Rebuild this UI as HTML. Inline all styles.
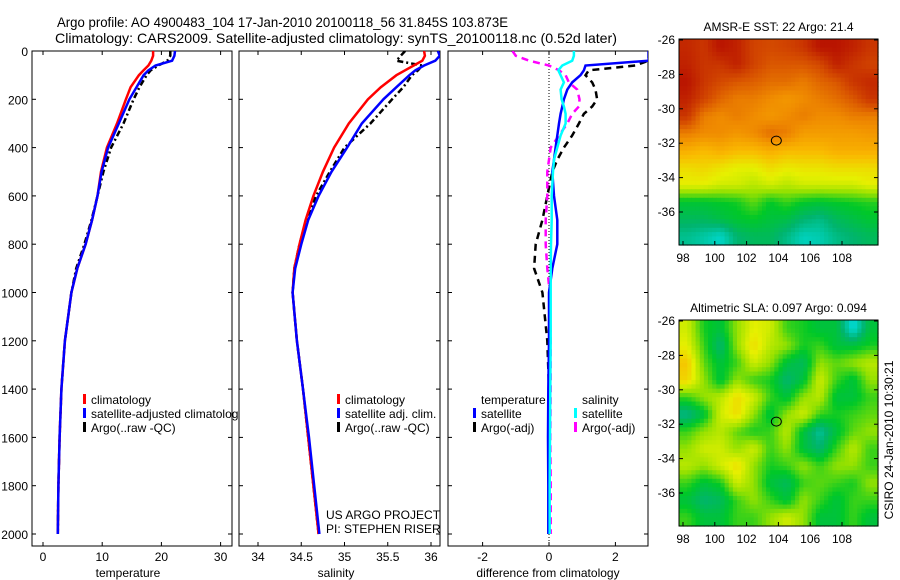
<!DOCTYPE html>
<html><head><meta charset="utf-8">
<style>
body{margin:0;background:#fff;}
svg{display:block;font-family:"Liberation Sans",sans-serif;font-size:12px;}
</style></head>
<body>
<svg id="c" width="900" height="580" viewBox="0 0 900 580">
<text x="57" y="27" style="font-size:14px" textLength="451" lengthAdjust="spacingAndGlyphs">Argo profile: AO 4900483_104 17-Jan-2010 20100118_56 31.845S 103.873E</text>
<text x="55" y="43" style="font-size:14px" textLength="562" lengthAdjust="spacingAndGlyphs">Climatology: CARS2009. Satellite-adjusted climatology: synTS_20100118.nc (0.52d later)</text>
</svg>
<script>
const depths=[0,20,40,60,80,100,150,200,300,400,500,600,700,800,900,1000,1200,1400,1600,1800,2000];
const climT=[18.6,18.6,18.3,17.8,17,16.2,14.8,14,12.5,10.8,9.8,9.2,8.3,7.2,5.8,4.8,3.7,3.1,2.8,2.6,2.5];
const satT=[22.3,22.2,21.8,19,17.8,17,15.8,14.6,12.8,11,9.9,9.2,8.3,7.2,5.8,4.8,3.7,3.1,2.8,2.6,2.5];
const argoT=[21.5,21.5,21,19.5,18.2,17.5,16.3,15.3,13.6,11.5,10.2,9.2,8.2,7,5.6,4.8,3.7,3.1,2.8,2.6,2.5];
const climS=[35.92,35.93,35.9,35.8,35.7,35.6,35.42,35.27,35.05,34.88,34.75,34.64,34.55,34.48,34.42,34.4,34.45,34.52,34.58,34.64,34.7];
const satS=[36.08,36.1,36.05,35.92,35.82,35.75,35.6,35.45,35.2,35.03,34.85,34.7,34.58,34.5,34.43,34.4,34.45,34.52,34.59,34.65,34.71];
const argoS=[35.7,35.65,35.6,35.9,35.85,35.78,35.68,35.55,35.3,35.0,34.83,34.67,34.56,34.48,34.42,34.4,34.45,34.52,34.58,34.64,34.7];
const diffDepths=[0,20,40,60,80,100,130,160,200,230,260,300,350,400,450,500,600,700,800,900,1000,1200,1400,1600,1800,2000];
const satTdiff=[3,3,3,1.1,1.05,0.95,0.7,0.55,0.45,0.4,0.35,0.3,0.25,0.2,0.15,0.1,0.15,0.25,0.25,0.1,0,0,-0.02,-0.03,-0.02,-0.02];
const satSdiff=[0.75,0.75,0.7,0.4,0.28,0.35,0.45,0.35,0.38,0.45,0.5,0.5,0.35,0.25,0.15,0.12,0.08,0.08,0.06,0.05,0.05,0.05,0.04,0.03,0.02,0.02];
const argoSdiff=[-1.1,-1.0,-0.6,0,0.3,0.5,0.6,0.85,0.92,0.9,0.7,0.55,0.3,0.05,0,-0.05,-0.05,-0.1,-0.1,-0.05,0.02,0.05,0.05,0.04,0.05,0.05];
const argoTdiff=[3,3,3,2.6,1.2,1.1,1.3,1.4,1.45,1.3,1.05,0.9,0.7,0.45,0.25,0.1,-0.05,-0.2,-0.4,-0.45,-0.2,-0.05,0,0,0,0];
const depthTicks=[0,200,400,600,800,1000,1200,1400,1600,1800,2000];
const tempTicks=[0,10,20,30];
const salTicks=[34,34.5,35,35.5,36];
const diffTicks=[-2,0,2];
const lonTicks=[98,100,102,104,106,108];
const latTicks=[-26,-28,-30,-32,-34,-36];
const sstGrid=[
[0.92,0.9,0.95,0.93,0.88,0.87,0.88,0.9,0.95,0.95,0.93,0.9],
[0.93,0.9,0.9,0.93,0.88,0.85,0.85,0.85,0.87,0.93,0.9,0.88],
[0.95,0.9,0.87,0.85,0.84,0.82,0.82,0.8,0.83,0.85,0.9,0.92],
[0.93,0.88,0.83,0.8,0.8,0.78,0.76,0.78,0.8,0.82,0.85,0.9],
[0.9,0.8,0.78,0.8,0.78,0.76,0.78,0.8,0.78,0.78,0.8,0.8],
[0.8,0.78,0.78,0.76,0.78,0.82,0.8,0.75,0.75,0.75,0.75,0.76],
[0.72,0.7,0.72,0.7,0.7,0.72,0.7,0.7,0.7,0.72,0.72,0.72],
[0.65,0.66,0.64,0.62,0.62,0.65,0.63,0.64,0.64,0.65,0.65,0.65],
[0.62,0.62,0.6,0.6,0.58,0.6,0.58,0.6,0.6,0.6,0.6,0.62],
[0.46,0.46,0.47,0.48,0.52,0.47,0.5,0.47,0.46,0.47,0.48,0.49],
[0.42,0.42,0.44,0.46,0.47,0.45,0.44,0.4,0.38,0.42,0.44,0.46],
[0.37,0.35,0.32,0.4,0.42,0.42,0.38,0.33,0.34,0.38,0.4,0.42]];
const slaGrid=[
[0.6,0.48,0.45,0.55,0.62,0.6,0.5,0.48,0.45,0.45,0.3,0.45],
[0.62,0.5,0.4,0.55,0.65,0.58,0.55,0.48,0.5,0.45,0.45,0.48],
[0.68,0.52,0.45,0.5,0.6,0.55,0.45,0.42,0.55,0.52,0.55,0.58],
[0.66,0.55,0.45,0.55,0.5,0.48,0.4,0.45,0.6,0.5,0.45,0.55],
[0.5,0.55,0.58,0.65,0.6,0.5,0.45,0.55,0.58,0.45,0.45,0.5],
[0.38,0.45,0.6,0.65,0.55,0.45,0.55,0.6,0.5,0.48,0.5,0.52],
[0.5,0.55,0.58,0.52,0.48,0.5,0.58,0.45,0.36,0.45,0.52,0.55],
[0.55,0.6,0.6,0.55,0.6,0.5,0.55,0.45,0.4,0.5,0.58,0.5],
[0.58,0.55,0.6,0.65,0.55,0.48,0.5,0.55,0.5,0.55,0.55,0.5],
[0.5,0.45,0.48,0.6,0.55,0.45,0.42,0.5,0.52,0.5,0.48,0.55],
[0.45,0.4,0.42,0.5,0.55,0.5,0.45,0.55,0.5,0.45,0.5,0.5],
[0.5,0.45,0.45,0.5,0.5,0.55,0.6,0.55,0.45,0.45,0.5,0.45]];
const argoPos=[103.87,-31.85];

const svg=document.getElementById('c');
const NS='http://www.w3.org/2000/svg';
function mk(tag,attrs,parent){const e=document.createElementNS(NS,tag);for(const k in attrs)e.setAttribute(k,attrs[k]);(parent||svg).appendChild(e);return e;}
const yD=d=>51+d*0.2415;
const xT=v=>43+v*5.92;
const xS=v=>258+(v-34)*86.5;
const xDf=v=>549+v*33.2;

function panel(x0,x1,name){
  const r=mk('rect',{x:x0,y:51,width:x1-x0,height:495,fill:'none',stroke:'#000','stroke-width':1});
  
  
}
function txt(x,y,s,anchor,name,extra){
  const t=mk('text',Object.assign({x:x,y:y,'text-anchor':anchor||'start'},extra||{}));t.textContent=s;
  
  
  return t;
}
function clip(id,x0,x1){const cp=mk('clipPath',{id:id});mk('rect',{x:x0,y:51,width:x1-x0,height:495},cp);}
clip('c1',32,232);clip('c2',239,440);clip('c3',448,648);
function lineG(g,xs,ds,fx,color,dash,w,name){
  const pts=xs.map((v,i)=>fx(v).toFixed(1)+','+yD(ds[i]).toFixed(1)).join(' ');
  const p=mk('polyline',{points:pts,fill:'none',stroke:color,'stroke-width':w||2.5},g);
  if(dash)p.setAttribute('stroke-dasharray',dash);
  
  
}

panel(32,232,'temperature-axes');
depthTicks.forEach(d=>{mk('line',{x1:32,x2:36,y1:yD(d),y2:yD(d),stroke:'#000'});mk('line',{x1:228,x2:232,y1:yD(d),y2:yD(d),stroke:'#000'});
  txt(28,yD(d)+5,String(d),'end','depth-tick-label');});
tempTicks.forEach(v=>{mk('line',{x1:xT(v),x2:xT(v),y1:546,y2:542,stroke:'#000'});mk('line',{x1:xT(v),x2:xT(v),y1:51,y2:55,stroke:'#000'});
  txt(xT(v),561,String(v),'middle','temperature-tick-label');});
txt(128,577,'temperature','middle','x-axis-title-temperature');
const g1=mk('g',{'clip-path':'url(#c1)'});
lineG(g1,argoT,depths,xT,'#000','6,3,2,3',2.5,'argo-temperature-line');
lineG(g1,climT,depths,xT,'#f00',null,2.5,'climatology-temperature-line');
lineG(g1,satT,depths,xT,'#00f',null,2.5,'satellite-temperature-line');

panel(239,440,'salinity-axes');
depthTicks.forEach(d=>{mk('line',{x1:239,x2:243,y1:yD(d),y2:yD(d),stroke:'#000'});mk('line',{x1:436,x2:440,y1:yD(d),y2:yD(d),stroke:'#000'});});
salTicks.forEach(v=>{mk('line',{x1:xS(v),x2:xS(v),y1:546,y2:542,stroke:'#000'});mk('line',{x1:xS(v),x2:xS(v),y1:51,y2:55,stroke:'#000'});
  txt(xS(v),561,String(v),'middle','salinity-tick-label');});
txt(336,577,'salinity','middle','x-axis-title-salinity');
const g2=mk('g',{'clip-path':'url(#c2)'});
lineG(g2,argoS,depths,xS,'#000','6,3,2,3',2.5,'argo-salinity-line');
lineG(g2,climS,depths,xS,'#f00',null,2.5,'climatology-salinity-line');
lineG(g2,satS,depths,xS,'#00f',null,2.5,'satellite-salinity-line');
txt(326,519,'US ARGO PROJECT','start','project-label');
txt(326,533,'PI: STEPHEN RISER','start','pi-label');

panel(448,648,'difference-axes');
depthTicks.forEach(d=>{mk('line',{x1:644,x2:648,y1:yD(d),y2:yD(d),stroke:'#000'});mk('line',{x1:448,x2:452,y1:yD(d),y2:yD(d),stroke:'#000'});});
diffTicks.forEach(v=>{mk('line',{x1:xDf(v),x2:xDf(v),y1:546,y2:542,stroke:'#000'});mk('line',{x1:xDf(v),x2:xDf(v),y1:51,y2:55,stroke:'#000'});
  txt(xDf(v),561,String(v),'middle','difference-tick-label');});
txt(548,577,'difference from climatology','middle','x-axis-title-difference');
mk('line',{x1:xDf(0),x2:xDf(0),y1:51,y2:546,stroke:'#000','stroke-dasharray':'1,2'});
const g3=mk('g',{'clip-path':'url(#c3)'});
lineG(g3,argoTdiff,diffDepths,xDf,'#000','7,5',2.5,'argo-temperature-diff-line');
lineG(g3,argoSdiff,diffDepths,xDf,'#f0f','7,5',2.5,'argo-salinity-diff-line');
lineG(g3,satTdiff,diffDepths,xDf,'#00f',null,2.5,'satellite-temperature-diff-line');
lineG(g3,satSdiff,diffDepths,xDf,'#0ff',null,2.5,'satellite-salinity-diff-line');

function legend(x,y,color,label,name){
  mk('rect',{x:x,y:y-10,width:3,height:10,fill:color});
  txt(x+8,y,label,'start',name);
}
const lg1=[['#f00','climatology'],['#00f','satellite-adjusted climatolog'],['#000','Argo(..raw -QC)']];
lg1.forEach((e,i)=>legend(83,404+i*14,e[0],e[1],'temperature-legend-entry'));
const lg2=[['#f00','climatology'],['#00f','satellite adj. clim.'],['#000','Argo(..raw -QC)']];
lg2.forEach((e,i)=>legend(337,404+i*14,e[0],e[1],'salinity-legend-entry'));
txt(481,404,'temperature','start','diff-legend-temperature-header');
txt(582,404,'salinity','start','diff-legend-salinity-header');
legend(473,418,'#00f','satellite','diff-legend-entry');
legend(473,432,'#000','Argo(-adj)','diff-legend-entry');
legend(574,418,'#0ff','satellite','diff-legend-entry');
legend(574,432,'#f0f','Argo(-adj)','diff-legend-entry');

const cmStops=[[0.0,[0,0,180]],[0.3,[0,220,220]],[0.4,[0,180,110]],[0.47,[0,200,40]],[0.55,[150,225,0]],[0.62,[230,240,0]],[0.7,[250,185,0]],[0.78,[240,140,0]],[0.86,[215,80,0]],[0.95,[185,20,0]],[1.0,[150,0,0]]];
function cmap(v){
  v=Math.max(0,Math.min(1,v));
  for(let i=1;i<cmStops.length;i++){
    if(v<=cmStops[i][0]){const a=cmStops[i-1],b=cmStops[i];const t=(v-a[0])/(b[0]-a[0]);
      const c=a[1].map((x,k)=>Math.round(x+(b[1][k]-x)*t));return 'rgb('+c.join(',')+')';}
  }
  return 'rgb(150,0,0)';
}
function sample(grid,fy,fx){
  const R=grid.length-1,C=grid[0].length-1;
  const y=Math.max(0,Math.min(R,fy)),x=Math.max(0,Math.min(C,fx));
  const i=Math.floor(y),j=Math.floor(x),i2=Math.min(R,i+1),j2=Math.min(C,j+1),ty=y-i,tx=x-j;
  return grid[i][j]*(1-ty)*(1-tx)+grid[i][j2]*(1-ty)*tx+grid[i2][j]*ty*(1-tx)+grid[i2][j2]*ty*tx;
}
function map(top,grid,title,name,up){
  const x0=679,x1=878,h=206,y0=top;
  const lonX=l=>683+(l-98)*15.9;
  const latY=l=>y0+1+(-26-l)*17.2;
  const rows=grid.length*up,cols=grid[0].length*up;
  const cw=(x1-x0)/cols,ch=h/rows;
  const g=mk('g',{});
  
  
  for(let i=0;i<rows;i++)for(let j=0;j<cols;j++){
    const v=sample(grid,(i+0.5)/up-0.5,(j+0.5)/up-0.5);
    const c=mk('rect',{x:(x0+j*cw).toFixed(2),y:(y0+i*ch).toFixed(2),width:(cw+0.6).toFixed(2),height:(ch+0.6).toFixed(2),fill:cmap(v)},g);
    
    
  }
  mk('rect',{x:x0,y:y0,width:x1-x0,height:h,fill:'none',stroke:'#000'});
  lonTicks.forEach(l=>{mk('line',{x1:lonX(l),x2:lonX(l),y1:y0+h,y2:y0+h-4,stroke:'#000'});
    txt(lonX(l),y0+h+17,String(l),'middle','longitude-tick-label');});
  latTicks.forEach(l=>{mk('line',{x1:x0,x2:x0+4,y1:latY(l),y2:latY(l),stroke:'#000'});mk('line',{x1:x1,x2:x1-4,y1:latY(l),y2:latY(l),stroke:'#000'});
    txt(x0-4,latY(l)+4,String(l),'end','latitude-tick-label');});
  const e=mk('ellipse',{cx:lonX(argoPos[0]),cy:latY(argoPos[1]),rx:5,ry:4.5,fill:'none',stroke:'#000'});
  
  
  txt((x0+x1)/2,y0-8,title,'middle','map-title');
}
map(39,sstGrid,'AMSR-E SST: 22 Argo: 21.4','sst-map',4);
map(320,slaGrid,'Altimetric SLA: 0.097 Argo: 0.094','sla-map',4);
txt(0,0,'CSIRO 24-Jan-2010 10:30:21','middle','timestamp-label',{transform:'translate(893,440) rotate(-90)'});
</script>
</body></html>
